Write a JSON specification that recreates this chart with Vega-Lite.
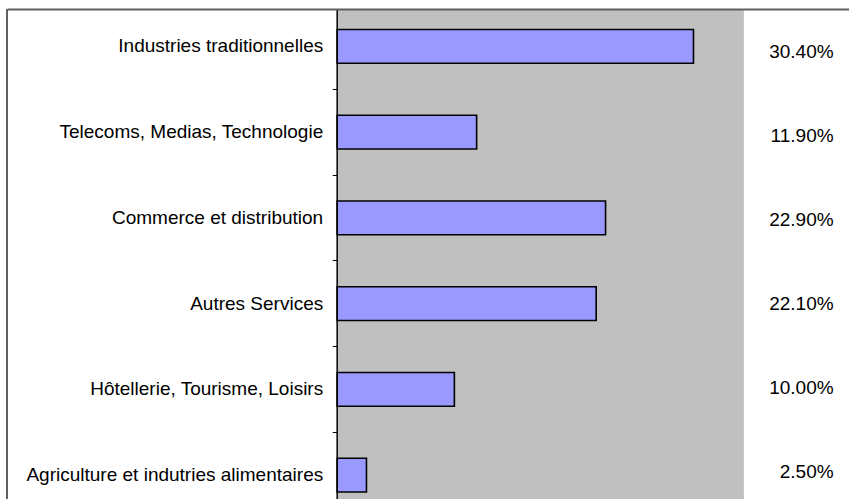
{
  "$schema": "https://vega.github.io/schema/vega-lite/v6.json",
  "width": 842,
  "height": 490,
  "autosize": {"type": "none"},
  "padding": {"left": 7, "top": 9, "right": 0, "bottom": 0},
  "background": "white",
  "config": {
    "view": {"stroke": null},
    "font": "Liberation Sans"
  },
  "data": {
    "values": [
      {"sector": "Industries traditionnelles", "value": 0.304},
      {"sector": "Telecoms, Medias, Technologie", "value": 0.119},
      {"sector": "Commerce et distribution", "value": 0.229},
      {"sector": "Autres Services", "value": 0.221},
      {"sector": "Hôtellerie, Tourisme, Loisirs", "value": 0.100},
      {"sector": "Agriculture et indutries alimentaires", "value": 0.025}
    ]
  },
  "resolve": {"scale": {"y": "independent"}, "axis": {"y": "independent"}},
  "layer": [
    {
      "layer": [
        {
          "data": {"values": [{}]},
          "mark": {"type": "rect", "color": "#C0C0C0"},
          "encoding": {
            "x": {"datum": 0, "type": "quantitative", "scale": {"domain": [-0.2817, 0.4367], "nice": false},
                  "axis": {"orient": "top", "title": null, "zindex": 2, "domain": true, "domainColor": "#606060", "domainWidth": 2, "labels": false, "ticks": false, "grid": false}},
            "x2": {"datum": 0.347}
          }
        },
        {
          "mark": {"type": "bar", "fill": "#9999FF", "stroke": "#000000", "strokeWidth": 1.6, "height": {"band": 0.395}},
          "encoding": {
            "y": {
              "field": "sector", "type": "nominal", "sort": null,
              "scale": {"range": [-5.5, 509], "paddingInner": 0, "paddingOuter": 0},
              "axis": {
                "orient": "left", "title": null, "offset": -330.2, "domain": false,
                "bandPosition": 1, "tickSize": 5, "tickColor": "#000000", "tickWidth": 1,
                "labelPadding": 9.5, "labelFontSize": 19, "labelColor": "#000000", "labelLimit": 400, "labelFont": "Liberation Sans"
              }
            },
            "x": {"field": "value", "type": "quantitative",
                  "axis": {"orient": "top", "title": null, "zindex": 2, "domain": true, "domainColor": "#606060", "domainWidth": 2, "labels": false, "ticks": false, "grid": false}},
            "x2": {"datum": 0}
          }
        },
        {
          "data": {"values": [{}]},
          "mark": {"type": "rule", "color": "#000000", "strokeWidth": 1.5},
          "encoding": {"x": {"datum": 0, "type": "quantitative"}}
        },
        {
          "data": {"values": [{}]},
          "mark": {"type": "rule", "color": "#606060", "strokeWidth": 2},
          "encoding": {"x": {"datum": -0.2817, "type": "quantitative"}}
        }
      ]
    },
    {
      "mark": {"type": "text", "align": "right", "baseline": "middle", "fontSize": 19, "color": "#000000"},
      "encoding": {
        "y": {"field": "sector", "type": "nominal", "sort": null, "axis": null,
              "scale": {"range": [1, 504.5], "paddingInner": 0, "paddingOuter": 0}},
        "x": {"datum": 0.4236, "type": "quantitative"},
        "text": {"field": "value", "format": ".2%"}
      }
    }
  ]
}
